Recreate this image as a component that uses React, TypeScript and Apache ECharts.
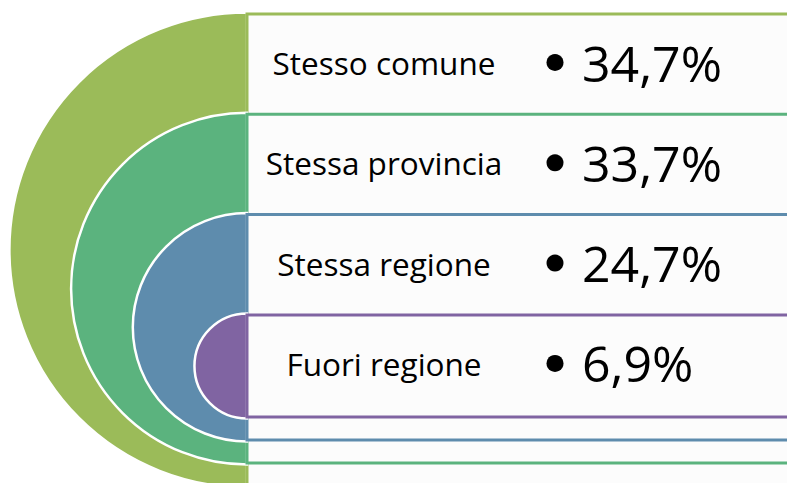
import React, { useEffect, useRef } from "react";
import * as echarts from "echarts";

// Data
const labels = ["Stesso comune", "Stessa provincia", "Stessa regione", "Fuori regione"];
const values = [34.7, 33.7, 24.7, 6.9];
const palette = ["#9BBB59", "#5BB37E", "#5E8CAD", "#8064A2"];

const W = 787;
const H = 483;

function fmt(v: number) {
  return v.toFixed(1).replace(".", ",") + "%";
}

export default function App() {
  const ref = useRef<HTMLDivElement>(null);
  useEffect(() => {
    if (!ref.current) return;
    const chart = echarts.init(ref.current, undefined, { renderer: "svg" });
    const data = values.map((v, i) => [i, v]);
    chart.setOption({
      animation: false,
      backgroundColor: "#ffffff",
      grid: { left: 0, right: 0, top: 0, bottom: 0 },
      xAxis: { type: "value", min: 0, max: W, show: false },
      yAxis: { type: "value", min: 0, max: H, inverse: true, show: false },
      series: [
        {
          type: "custom",
          coordinateSystem: "cartesian2d",
          silent: true,
          clip: false,
          data,
          renderItem: (params: any, api: any) => {
            const i = api.value(0) as number;
            const v = api.value(1) as number;
            const top = 14 + 100.3 * i;
            const bottom = 486 - 23 * i;
            const edgeX = 247;
            const [ex, yT] = api.coord([edgeX, top]);
            const [, yB] = api.coord([edgeX, bottom]);
            const [rightX] = api.coord([W + 20, 0]);
            const cy = (yT + yB) / 2;
            const r = (yB - yT) / 2 + 1.5;
            const mid = api.coord([0, 62.5 + 100.3 * i])[1];
            const [labelX] = api.coord([384, 0]);
            const [bulletX] = api.coord([555, 0]);
            const [valueX] = api.coord([582, 0]);
            const color = palette[i];
            return {
              type: "group",
              children: [
                {
                  type: "sector",
                  shape: {
                    cx: ex,
                    cy,
                    r,
                    r0: 0,
                    startAngle: Math.PI / 2,
                    endAngle: (Math.PI * 3) / 2,
                    clockwise: true,
                  },
                  style: { fill: color, stroke: "#ffffff", lineWidth: 2.5 },
                },
                {
                  type: "rect",
                  shape: { x: ex, y: yT, width: rightX - ex, height: yB - yT },
                  style: { fill: "#fcfcfc", stroke: color, lineWidth: 3 },
                },
                {
                  type: "text",
                  style: {
                    text: labels[i],
                    x: labelX,
                    y: mid,
                    fill: "#000000",
                    font: '31.5px "Open Sans"',
                    align: "center",
                    textAlign: "center",
                    verticalAlign: "middle",
                    textVerticalAlign: "middle",
                  },
                },
                {
                  type: "circle",
                  shape: { cx: bulletX, cy: mid, r: 8.5 },
                  style: { fill: "#000000" },
                },
                {
                  type: "text",
                  style: {
                    text: fmt(v),
                    x: valueX,
                    y: mid,
                    fill: "#000000",
                    font: '50px "Open Sans"',
                    align: "left",
                    textAlign: "left",
                    verticalAlign: "middle",
                    textVerticalAlign: "middle",
                  },
                },
              ],
            };
          },
        },
      ],
    });
    return () => chart.dispose();
  }, []);
  return (
    <div
      ref={ref}
      style={{ position: "fixed", left: 0, top: 0, width: W, height: H }}
    />
  );
}
